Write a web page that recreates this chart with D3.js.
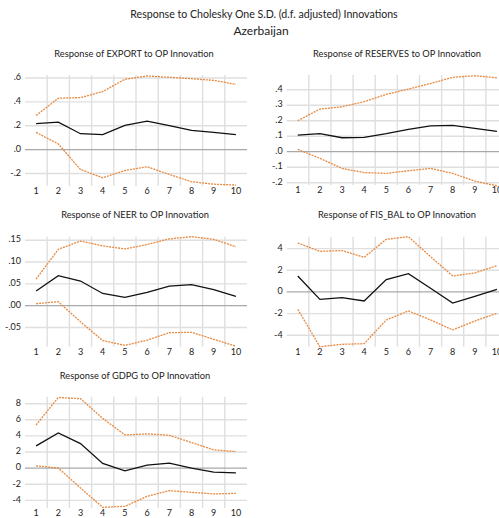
<!DOCTYPE html>
<head>
  <meta charset="utf-8">
  <script src="https://d3js.org/d3.v7.min.js"></script>
  <style>
    body { margin:0; background:#fff; overflow:hidden; }
    text { font-family: Lato, "Open Sans", sans-serif; fill:#222; }
  </style>
</head>
<body>
  <div id="chart"></div>
  <script>
    // impulse response data, periods 1..10
    const periods = [1, 2, 3, 4, 5, 6, 7, 8, 9, 10];

    const exportMid = [0.217, 0.23, 0.133, 0.125, 0.203, 0.239, 0.2, 0.161, 0.144, 0.125];
    const exportUp  = [0.286, 0.43, 0.436, 0.486, 0.589, 0.617, 0.606, 0.594, 0.58, 0.547];
    const exportLo  = [0.144, 0.047, -0.167, -0.236, -0.175, -0.144, -0.208, -0.269, -0.29, -0.297];

    const reservesMid = [0.1075, 0.116, 0.09, 0.092, 0.116, 0.144, 0.166, 0.17, 0.15, 0.131];
    const reservesUp  = [0.2, 0.275, 0.29, 0.323, 0.37, 0.404, 0.44, 0.48, 0.49, 0.477];
    const reservesLo  = [0.015, -0.043, -0.108, -0.135, -0.14, -0.123, -0.108, -0.14, -0.19, -0.22];

    const neerMid = [0.0336, 0.0687, 0.0565, 0.028, 0.019, 0.0305, 0.045, 0.048, 0.0366, 0.0214];
    const neerUp  = [0.061, 0.129, 0.148, 0.137, 0.13, 0.14, 0.153, 0.158, 0.152, 0.135];
    const neerLo  = [0.0046, 0.009, -0.037, -0.08, -0.091, -0.079, -0.062, -0.061, -0.077, -0.093];

    const fisMid = [1.48, -0.68, -0.52, -0.83, 1.14, 1.69, 0.34, -1.02, -0.4, 0.25];
    const fisUp  = [4.52, 3.75, 3.82, 3.2, 4.86, 5.1, 3.26, 1.48, 1.75, 2.43];
    const fisLo  = [-1.6, -5.05, -4.83, -4.77, -2.58, -1.75, -2.58, -3.5, -2.68, -1.97];

    const gdpgMid = [2.76, 4.37, 3.05, 0.58, -0.33, 0.37, 0.62, 0.0, -0.5, -0.58];
    const gdpgUp  = [5.36, 8.78, 8.62, 6.19, 4.12, 4.25, 4.08, 3.18, 2.27, 2.06];
    const gdpgLo  = [0.29, 0.0, -2.47, -4.87, -4.74, -3.5, -2.8, -3.0, -3.2, -3.13];

    const exportTicks = [-0.2, 0, 0.2, 0.4, 0.6];
    const exportTickLabels = ['-.2', '.0', '.2', '.4', '.6'];
    const reservesTicks = [-0.2, -0.1, 0, 0.1, 0.2, 0.3, 0.4];
    const reservesTickLabels = ['-.2', '-.1', '.0', '.1', '.2', '.3', '.4'];
    const neerTicks = [-0.05, 0, 0.05, 0.10, 0.15];
    const neerTickLabels = ['-.05', '.00', '.05', '.10', '.15'];
    const fisTicks = [-4, -2, 0, 2, 4];
    const fisTickLabels = ['-4', '-2', '0', '2', '4'];
    const gdpgTicks = [-4, -2, 0, 2, 4, 6, 8];
    const gdpgTickLabels = ['-4', '-2', '0', '2', '4', '6', '8'];

    const W = 499, H = 518;
    const svg = d3.select('#chart').append('svg')
      .attr('width', W).attr('height', H);

    svg.append('text').attr('x', 264).attr('y', 15)
      .attr('text-anchor', 'middle').attr('dominant-baseline', 'middle')
      .style('font-size', '10.6px')
      .text('Response to Cholesky One S.D. (d.f. adjusted) Innovations');
    svg.append('text').attr('x', 261).attr('y', 32)
      .attr('text-anchor', 'middle').attr('dominant-baseline', 'middle')
      .style('font-size', '12px')
      .text('Azerbaijan');

    const panels = [
      { title: 'Response of EXPORT to OP Innovation', tx: 134, ty: 55,
        box: [25, 247, 75, 186], dom: [-0.305, 0.625],
        ticks: exportTicks, labels: exportTickLabels, mid: exportMid, up: exportUp, lo: exportLo },
      { title: 'Response of RESERVES to OP Innovation', tx: 397, ty: 55,
        box: [286.7, 508, 75, 185], dom: [-0.215, 0.495],
        ticks: reservesTicks, labels: reservesTickLabels, mid: reservesMid, up: reservesUp, lo: reservesLo },
      { title: 'Response of NEER to OP Innovation', tx: 135, ty: 216,
        box: [25, 247, 236.7, 346.7], dom: [-0.094, 0.158],
        ticks: neerTicks, labels: neerTickLabels, mid: neerMid, up: neerUp, lo: neerLo },
      { title: 'Response of FIS_BAL to OP Innovation', tx: 397, ty: 216,
        box: [286.7, 508, 236.7, 346.7], dom: [-5.05, 5.1],
        ticks: fisTicks, labels: fisTickLabels, mid: fisMid, up: fisUp, lo: fisLo },
      { title: 'Response of GDPG to OP Innovation', tx: 135, ty: 377,
        box: [25, 247, 396.7, 508], dom: [-4.95, 8.87],
        ticks: gdpgTicks, labels: gdpgTickLabels, mid: gdpgMid, up: gdpgUp, lo: gdpgLo }
    ];

    panels.forEach(p => {
      const [x0, x1, y0, y1] = p.box;
      const x = d3.scaleLinear().domain([0.5, 10.5]).range([x0, x1]);
      const y = d3.scaleLinear().domain(p.dom).range([y1, y0]);
      const g = svg.append('g');

      g.append('text').attr('x', p.tx).attr('y', p.ty)
        .attr('text-anchor', 'middle').attr('dominant-baseline', 'middle')
        .style('font-size', '9.3px').text(p.title);

      // vertical gridlines between periods
      g.selectAll('.vg').data(d3.range(1.5, 10, 1)).enter().append('line')
        .attr('x1', d => x(d)).attr('x2', d => x(d))
        .attr('y1', y0).attr('y2', y1)
        .style('stroke', '#dfdfdf').style('stroke-width', 1.4);

      // horizontal gridlines
      g.selectAll('.hg').data(p.ticks).enter().append('line')
        .attr('x1', x0).attr('x2', x1)
        .attr('y1', d => y(d)).attr('y2', d => y(d))
        .style('stroke', d => d === 0 ? '#a9a9a9' : '#dfdfdf')
        .style('stroke-width', d => d === 0 ? 1.2 : 1.4);

      // y labels
      g.selectAll('.yl').data(p.ticks).enter().append('text')
        .attr('x', x0 - 4).attr('y', d => y(d))
        .attr('text-anchor', 'end').attr('dominant-baseline', 'middle')
        .style('font-size', '9px')
        .text((d, i) => p.labels[i]);

      // x labels
      g.selectAll('.xl').data(periods).enter().append('text')
        .attr('x', d => x(d)).attr('y', y1 + 6)
        .attr('text-anchor', 'middle').attr('dominant-baseline', 'middle')
        .style('font-size', '9px').text(d => d);

      const line = d3.line().x((d, i) => x(periods[i])).y(d => y(d));

      [p.up, p.lo].forEach(s => {
        g.append('path').attr('d', line(s))
          .style('fill', 'none').style('stroke', '#e8893f')
          .style('stroke-width', 1.3).style('stroke-dasharray', '2,1');
      });
      g.append('path').attr('d', line(p.mid))
        .style('fill', 'none').style('stroke', '#111')
        .style('stroke-width', 1.3);
    });
  </script>
</body>
</html>
